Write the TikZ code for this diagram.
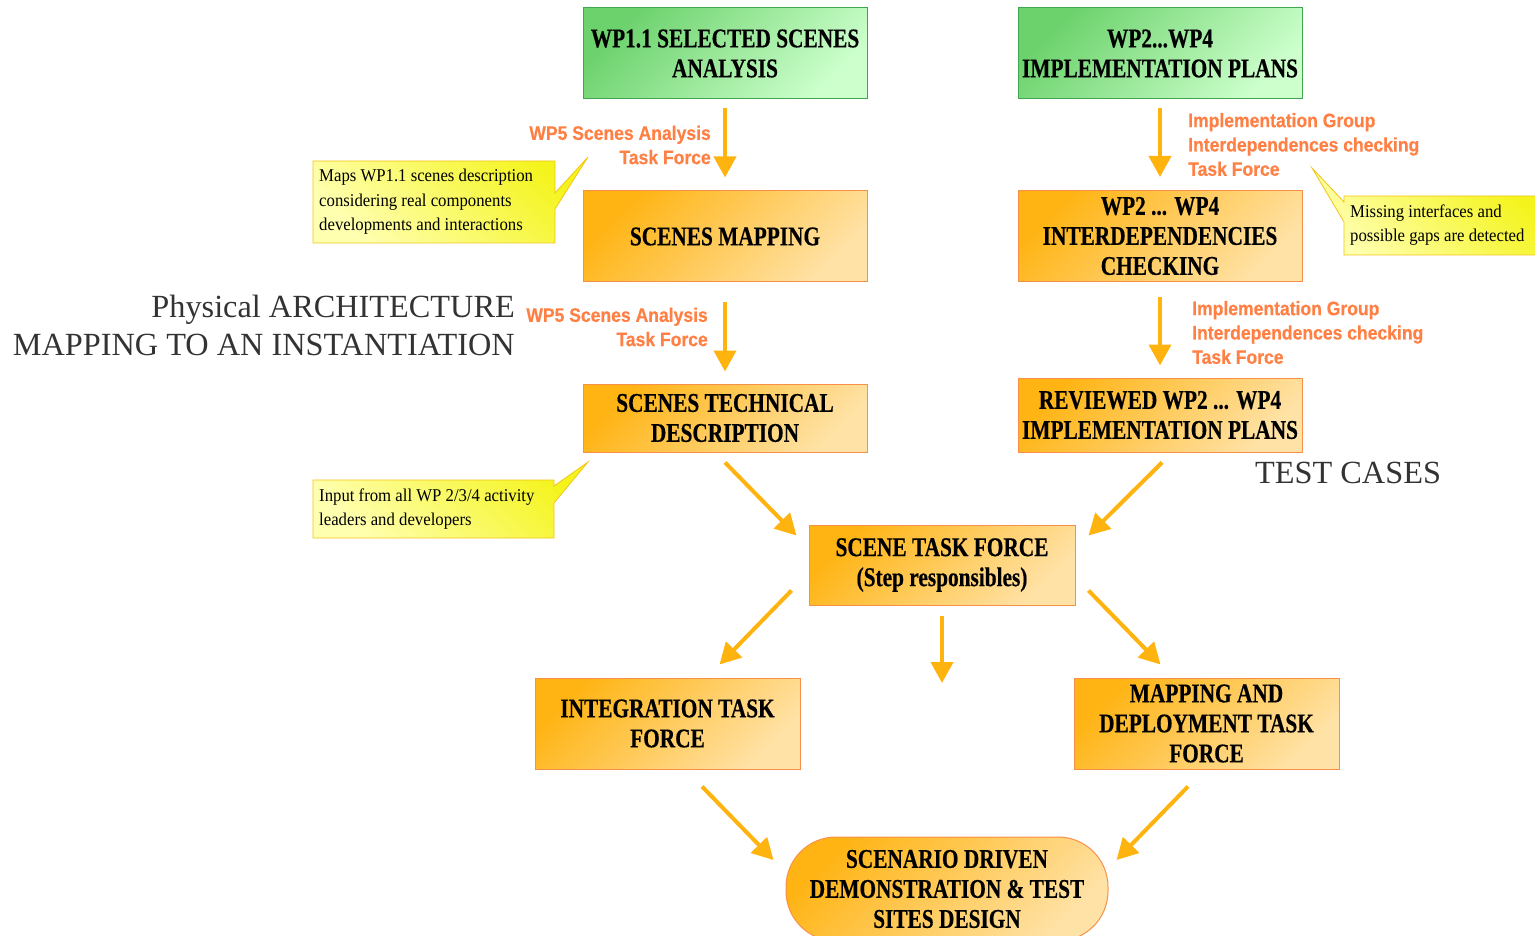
\documentclass[tikz,border=0pt]{standalone}
\usepackage{fontspec}
\setmainfont{Liberation Serif}
\newfontfamily\boxfont{Liberation Serif}[FakeStretch=0.79,FakeBold=0.4]
\newfontfamily\lblfont{Liberation Sans}[FakeStretch=0.9,FakeBold=0.5]
\newfontfamily\notefont{Liberation Serif}[FakeStretch=0.93]
\usetikzlibrary{arrows.meta}
\definecolor{orA}{HTML}{FFB414}
\definecolor{orB}{HTML}{FFE2A6}
\definecolor{oredge}{HTML}{F8904A}
\definecolor{grA}{HTML}{6CD26C}
\definecolor{grB}{HTML}{CCFFCC}
\definecolor{gredge}{HTML}{3FA64F}
\definecolor{arrcol}{HTML}{FFB30F}
\definecolor{lblcol}{HTML}{FF8044}
\definecolor{yelA}{HTML}{FFFFB0}
\definecolor{yelB}{HTML}{F4F41C}
\definecolor{yeledge}{HTML}{F2C418}
\definecolor{titlecol}{HTML}{333333}
\begin{document}
\begin{tikzpicture}[x=1pt,y=-1pt,
  basebox/.style={line width=1pt, minimum width=284, minimum height=91, align=center, inner sep=0,
    font=\boxfont\bfseries\fontsize{27}{30}\selectfont},
  obox/.style={basebox, draw=oredge, left color=orA, right color=orB, shading angle=45},
  gbox/.style={basebox, draw=gredge, left color=grA, right color=grB, shading angle=45},
  arr/.style={draw=arrcol, line width=4pt, -{Triangle[width=22pt,length=21pt]}},
  lbl/.style={text=lblcol, font=\lblfont\bfseries\fontsize{19.5}{24.3}\selectfont, inner sep=0},
  note/.style={font=\notefont\fontsize{18}{24.5}\selectfont, align=left, inner sep=0, anchor=west},
  callout/.style={draw=yeledge, line width=0.8pt, left color=yelA, right color=yelB, shading angle=135},
  title/.style={text=titlecol, font=\fontsize{32.3}{38}\selectfont, inner sep=0}]
\useasboundingbox (0,0) rectangle (1535,936);

% boxes
\node[gbox] (wp11) at (725,53.5) {WP1.1 SELECTED SCENES\\ANALYSIS};
\node[gbox] (wp24) at (1160,53.5) {WP2...WP4\\IMPLEMENTATION PLANS};
\node[obox] (sm) at (725,236.5) {SCENES MAPPING};
\node[obox] (idc) at (1160,236) {WP2 ... WP4\\INTERDEPENDENCIES\\CHECKING};
\node[obox, minimum height=68] (std) at (725,418) {SCENES TECHNICAL\\DESCRIPTION};
\node[obox, minimum height=74] (rev) at (1160,415) {REVIEWED WP2 ... WP4\\IMPLEMENTATION PLANS};
\node[obox, minimum width=266, minimum height=80] (stf) at (942,565) {SCENE TASK FORCE\\(Step responsibles)};
\node[obox, minimum width=265] (itf) at (667.5,723.5) {INTEGRATION TASK\\FORCE};
\node[obox, minimum width=265] (mdt) at (1206.5,723.5) {MAPPING AND\\DEPLOYMENT TASK\\FORCE};
\node[obox, minimum width=322, minimum height=104, rounded corners=50] (sc) at (947,889) {SCENARIO DRIVEN\\DEMONSTRATION \& TEST\\SITES DESIGN};

% arrows
\draw[arr] ([shift={(0,9)}]wp11.south) -- ([shift={(0,-13)}]sm.north);
\draw[arr] ([shift={(0,9)}]wp24.south) -- ([shift={(0,-13)}]idc.north);
\draw[arr] ([shift={(0,20)}]sm.south) -- ([shift={(0,-12)}]std.north);
\draw[arr] ([shift={(0,15)}]idc.south) -- ([shift={(0,-12)}]rev.north);
\draw[arr] ([shift={(0,10)}]std.south) -- ([shift={(-12,11)}]stf.north west);
\draw[arr] ([shift={(2,10)}]rev.south) -- ([shift={(13,11)}]stf.north east);
\draw[arr] ([shift={(-17,-15)}]stf.south west) -- ([shift={(52,-13)}]itf.north);
\coordinate (mid) at (942,683);
\draw[arr] ([shift={(0,10)}]stf.south) -- (mid);
\draw[arr] ([shift={(13,-15)}]stf.south east) -- ([shift={(-46,-13)}]mdt.north);
\draw[arr] ([shift={(34.5,17)}]itf.south) -- ([shift={(-12,-29)}]sc.west);
\draw[arr] ([shift={(-18.5,17)}]mdt.south) -- ([shift={(8,-29)}]sc.east);

% arrow labels
\node[lbl, align=right, anchor=east] (l1) at (711,145) {WP5 Scenes Analysis\\Task Force};
\node[lbl, align=right, anchor=east] (l2) at (708,327) {WP5 Scenes Analysis\\Task Force};
\node[lbl, align=left, anchor=west] (l3) at (1188,144.5) {Implementation Group\\Interdependences checking\\Task Force};
\node[lbl, align=left, anchor=west] (l4) at (1192,332.5) {Implementation Group\\Interdependences checking\\Task Force};

% callouts
\path[callout] (313,161) -- (555,161) -- (555,193) -- (588,157) -- (555,209) -- (555,243) -- (313,243) -- cycle;
\node[note] (n1) at (319,202) {Maps WP1.1 scenes description\\considering real components\\developments and interactions};
\path[callout] (313,480) -- (554,480) -- (554,486) -- (588,462) -- (554,503) -- (554,538) -- (313,538) -- cycle;
\node[note] (n2) at (319,509) {Input from all WP 2/3/4 activity\\leaders and developers};
\path[callout] (1344,196) -- (1536,196) -- (1536,255) -- (1344,255) -- (1344,222) -- (1312,168) -- (1344,202) -- cycle;
\node[note] (n3) at (1350,225) {Missing interfaces and\\possible gaps are detected};

% titles
\node[title, anchor=base east] (t1) at (515,317) {Physical ARCHITECTURE};
\node[title, anchor=base east] (t2) at (515,355) {MAPPING TO AN INSTANTIATION};
\node[title, anchor=base west] (t3) at (1255,483) {TEST CASES};
\end{tikzpicture}
\end{document}
